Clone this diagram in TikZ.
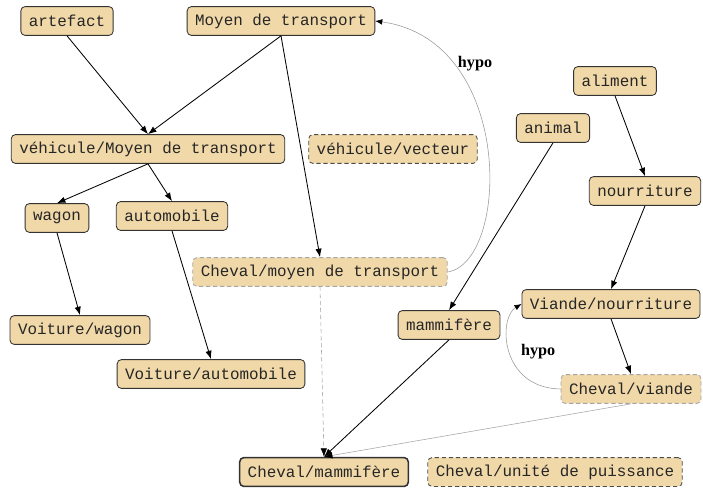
\documentclass[tikz,border=0pt]{standalone}
\usepackage{fontspec}
\setmainfont{Liberation Serif}
\setmonofont{Liberation Mono}
\usepackage{xcolor}
\usepackage{tikz}
\usetikzlibrary{arrows,arrows.meta,shapes}
\definecolor{wheat}{RGB}{240,216,168}
\tikzstyle{concept}=[rectangle,rounded corners=3pt,draw=black!80,fill=wheat,line width=0.6pt,font=\ttfamily\fontsize{11.3}{13}\selectfont,text=black!85,minimum height=20.5pt,inner xsep=5.7pt,inner ysep=0pt]
\tikzstyle{boldconcept}=[concept,line width=1.1pt]
\tikzstyle{dashconcept}=[concept,densely dashed,draw=black!70]
\tikzstyle{faintconcept}=[concept,densely dashed,draw=black!35]
\tikzstyle{edge}=[draw,line width=0.6pt,-{Latex[length=6pt,width=4.5pt]}]
\tikzstyle{faintedge}=[draw,line width=0.4pt,black!35,-{Latex[black,length=6pt,width=4.5pt]}]
\tikzstyle{hypoedge}=[draw,line width=0.4pt,black!40,-{Latex[black,length=5pt,width=4pt]}]
\tikzstyle{hypolabel}=[font=\bfseries\fontsize{11.5}{13}\selectfont,text=black,inner sep=0pt]

\begin{document}
\begin{tikzpicture}[x=0.025cm,y=-0.025cm]
    \useasboundingbox (0,0) rectangle (703,487);
    % First the concepts
    \foreach \pos/\name/\kind/\label in {{(67,21)/art/concept/artefact},
    {(281,21)/moyen/concept/{Moyen de transport}},
    {(148,149)/vehic/concept/{véhicule/Moyen de transport}}, {(393,149)/vect/dashconcept/{véhicule/vecteur}},
    {(57,218)/wagon/concept/wagon}, {(172,216)/auto/concept/automobile},
    {(320,272)/chmoy/faintconcept/{Cheval/moyen de transport}},
    {(80,330)/voitw/concept/{Voiture/wagon}}, {(211,374)/voita/concept/{Voiture/automobile}},
    {(553,128)/animal/concept/animal}, {(615,81)/alim/concept/aliment},
    {(645,191)/nourr/concept/nourriture}, {(611,304)/viande/concept/{Viande/nourriture}},
    {(449,325)/mamm/concept/{mammifère}}, {(631,389)/chvia/faintconcept/{Cheval/viande}},
    {(324,472)/chmam/boldconcept/{Cheval/mammifère}}, {(555,472)/chpui/dashconcept/{Cheval/unité de puissance}}}
        \node[\kind] (\name) at \pos {\label};

    % Then the links between them
    \foreach \source/\dest in {art/vehic, moyen/vehic, moyen/chmoy, vehic/wagon, vehic/auto,
    wagon/voitw, auto/voita, animal/mamm, alim/nourr, nourr/viande, viande/chvia, mamm/chmam}
        \path[edge] (\source.south) -- (\dest.north);
    \path[faintedge,densely dashed] (chmoy.south) -- (chmam.north);
    \path[faintedge] (chvia.south) -- (chmam.north);

    % hypo arcs
    \path[hypoedge] (chmoy.east) .. controls (510,262) and (515,40) .. node[hypolabel,pos=0.76,anchor=west,xshift=4pt] {hypo} (moyen.east);
    \path[hypoedge] (chvia.west) .. controls (500,388) and (498,318) .. node[hypolabel,pos=0.5,anchor=west,xshift=8pt] {hypo} (viande.west);
\end{tikzpicture}
\end{document}
